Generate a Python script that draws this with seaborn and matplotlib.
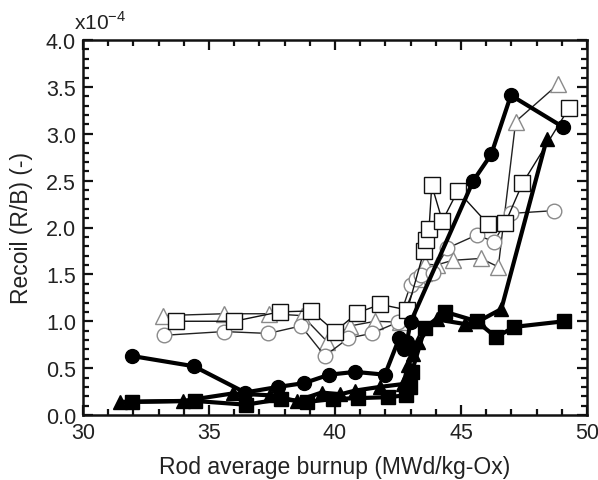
import matplotlib
matplotlib.use("Agg")
import matplotlib.pyplot as plt
import seaborn as sns
import pandas as pd
from matplotlib.ticker import MultipleLocator

sns.set_theme(style="ticks")
plt.rcParams['font.family'] = ['Liberation Sans', 'DejaVu Sans']
plt.rcParams['mathtext.fontset'] = 'custom'
plt.rcParams['mathtext.rm'] = 'Liberation Sans'

# Open triangles
tri_o_x = [33.16, 35.6, 37.4, 38.7, 39.7, 40.6, 41.6, 42.58, 43.3, 43.54, 43.57, 44.03, 44.67, 45.79, 46.48, 47.17, 48.86]
tri_o_y = [1.06, 1.08, 1.08, 1.06, 0.78, 0.95, 1.0, 0.99, 1.45, 1.52, 1.61, 1.6, 1.65, 1.67, 1.58, 3.13, 3.53]
# Open circles
cir_o_x = [33.2, 35.6, 37.35, 38.65, 39.6, 40.53, 41.45, 42.5, 43.0, 43.2, 43.4, 43.9, 44.46, 45.62, 46.31, 46.97, 48.7]
cir_o_y = [0.85, 0.89, 0.87, 0.95, 0.63, 0.82, 0.87, 0.99, 1.39, 1.45, 1.49, 1.52, 1.78, 1.92, 1.85, 2.15, 2.18]
# Open squares
sq_o_x = [33.7, 36.0, 37.8, 39.05, 40.0, 40.89, 41.8, 42.87, 43.53, 43.6, 43.73, 43.84, 44.26, 44.87, 46.06, 46.76, 47.44, 49.3]
sq_o_y = [1.0, 1.0, 1.10, 1.11, 0.89, 1.09, 1.18, 1.12, 1.75, 1.87, 1.98, 2.45, 2.07, 2.39, 2.04, 2.05, 2.47, 3.28]
# Filled circles
cir_f_x = [31.93, 34.4, 36.43, 37.75, 38.77, 39.77, 40.8, 41.98, 42.55, 42.75, 42.85, 43.0, 45.49, 46.2, 46.98, 49.06]
cir_f_y = [0.63, 0.52, 0.24, 0.30, 0.34, 0.43, 0.46, 0.43, 0.82, 0.70, 0.78, 0.99, 2.5, 2.78, 3.41, 3.07]
# Filled triangles
tri_f_x = [31.47, 33.98, 35.94, 37.42, 38.48, 39.47, 40.2, 40.79, 41.79, 42.7, 42.91, 43.1, 43.3, 44.03, 45.16, 45.7, 46.6, 48.4]
tri_f_y = [0.14, 0.15, 0.23, 0.21, 0.15, 0.24, 0.22, 0.26, 0.30, 0.33, 0.53, 0.65, 0.78, 1.02, 0.97, 1.0, 1.13, 2.94]
# Filled squares
sq_f_x = [31.93, 34.44, 36.46, 37.86, 38.9, 39.93, 40.9, 42.1, 42.8, 42.98, 43.05, 43.57, 44.37, 45.62, 46.39, 47.12, 49.1]
sq_f_y = [0.14, 0.15, 0.11, 0.17, 0.14, 0.17, 0.18, 0.19, 0.21, 0.30, 0.46, 0.93, 1.10, 1.0, 0.83, 0.94, 1.0]

fig = plt.figure(figsize=(5.98, 4.81), dpi=100)
ax = fig.add_axes([83/598, 1 - 416/481, (587-83)/598, (416-41)/481])

series = [
    (tri_o_x, tri_o_y, '^', 'white', '#8a8a8a', '#222222', 1.0, 11.5),
    (cir_o_x, cir_o_y, 'o', 'white', '#8a8a8a', '#222222', 1.0, 10.5),
    (sq_o_x, sq_o_y, 's', 'white', '#111111', '#111111', 1.0, 11.5),
    (cir_f_x, cir_f_y, 'o', 'black', 'black', 'black', 3.0, 10),
    (tri_f_x, tri_f_y, '^', 'black', 'black', 'black', 3.0, 10),
    (sq_f_x, sq_f_y, 's', 'black', 'black', 'black', 3.0, 10),
]
for xs, ys, m, fc, ec, lc, lw, ms in series:
    df = pd.DataFrame({'x': xs, 'y': ys})
    sns.lineplot(data=df, x='x', y='y', sort=False, estimator=None, ax=ax,
                 color=lc, linewidth=lw, marker=m, markersize=ms,
                 markerfacecolor=fc, markeredgecolor=ec, markeredgewidth=1.0)

ax.set_xlim(30, 50)
ax.set_ylim(0, 4.0)
ax.xaxis.set_major_locator(MultipleLocator(5))
ax.xaxis.set_minor_locator(MultipleLocator(1))
ax.yaxis.set_major_locator(MultipleLocator(0.5))
ax.yaxis.set_minor_locator(MultipleLocator(0.1))
ax.xaxis.set_major_formatter(matplotlib.ticker.FormatStrFormatter('%d'))
ax.yaxis.set_major_formatter(matplotlib.ticker.FormatStrFormatter('%.1f'))
ax.tick_params(which='both', direction='in', top=True, right=True, colors='#111111',
               labelcolor='#222222', labelsize=15.5)
ax.tick_params(which='major', length=7, width=1.6, pad=5)
ax.tick_params(which='minor', length=4, width=1.6)
for s in ax.spines.values():
    s.set_linewidth(1.8)
    s.set_color('#111111')

ax.set_xlabel('Rod average burnup (MWd/kg-Ox)', fontsize=16.5, color='#222222', labelpad=9)
ax.set_ylabel('Recoil (R/B) (-)', fontsize=16.5, color='#222222', labelpad=9)
fig.text(74/598, 1 - 30/481, r'x10$^{\mathregular{-4}}$', fontsize=15, color='#222222',
         ha='left', va='baseline')

fig.savefig('out.png', dpi=100)
